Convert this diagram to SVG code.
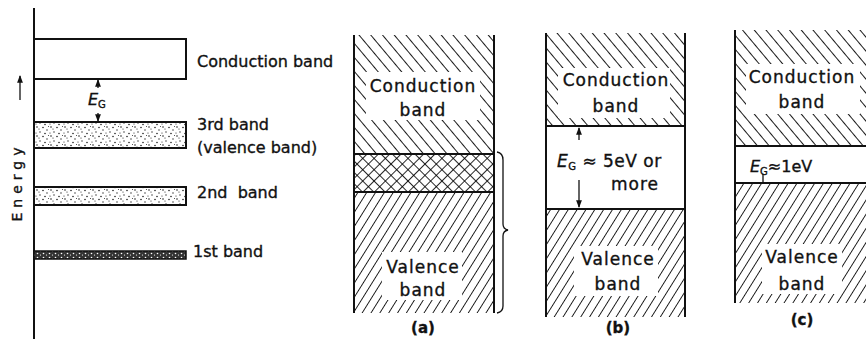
<svg xmlns="http://www.w3.org/2000/svg" width="866" height="339" viewBox="0 0 866 339">
<style>
text{font-family:"DejaVu Sans","Liberation Sans",sans-serif;fill:#111;stroke:#111;stroke-width:0.35}
.lbl{font-size:16px}
.pt{font-size:17px;letter-spacing:1px;text-anchor:middle}
.ln{stroke:#111;stroke-width:2}
.thin{stroke:#111;stroke-width:1.3;fill:none}
</style>
<defs>
<pattern id="hb" width="9" height="9" patternUnits="userSpaceOnUse" patternTransform="rotate(-40)">
<line x1="0" y1="0" x2="0" y2="9" stroke="#000" stroke-width="1.8"/>
</pattern>
<pattern id="hf" width="7.5" height="7.5" patternUnits="userSpaceOnUse" patternTransform="rotate(32)">
<line x1="0" y1="0" x2="0" y2="7.5" stroke="#000" stroke-width="1.7"/>
</pattern>
<pattern id="xh1" width="8" height="8" patternUnits="userSpaceOnUse" patternTransform="rotate(-45)">
<line x1="0" y1="0" x2="0" y2="8" stroke="#000" stroke-width="1.7"/>
</pattern>
<pattern id="xh2" width="8" height="8" patternUnits="userSpaceOnUse" patternTransform="rotate(45)">
<line x1="0" y1="0" x2="0" y2="8" stroke="#000" stroke-width="1.7"/>
</pattern>
<pattern id="dots" width="14" height="9" patternUnits="userSpaceOnUse">
<rect width="14" height="9" fill="#fff"/>
<circle cx="1" cy="1.5" r="0.8" fill="#222"/>
<circle cx="5" cy="4" r="0.7" fill="#222"/>
<circle cx="9" cy="1" r="0.8" fill="#222"/>
<circle cx="12" cy="6" r="0.7" fill="#222"/>
<circle cx="3" cy="7.5" r="0.8" fill="#222"/>
<circle cx="8" cy="7" r="0.6" fill="#222"/>
<circle cx="11" cy="3" r="0.6" fill="#222"/>
<circle cx="6.5" cy="0.5" r="0.5" fill="#222"/>
</pattern>
<pattern id="dense" width="6" height="4" patternUnits="userSpaceOnUse">
<rect width="6" height="4" fill="#333"/>
<circle cx="1.5" cy="1.5" r="0.8" fill="#fff"/>
<circle cx="4.5" cy="3" r="0.6" fill="#fff"/>
</pattern>
<marker id="ah" viewBox="0 0 8 8" refX="7" refY="4" markerWidth="6" markerHeight="6" orient="auto-start-reverse">
<path d="M0,1 L8,4 L0,7 z" fill="#111"/>
</marker>
</defs>

<!-- Left panel: energy level diagram -->
<g id="axis">
<line class="ln" x1="34" y1="8" x2="34" y2="339"/>
<line class="thin" x1="20" y1="100" x2="20" y2="76" marker-end="url(#ah)"/>
<text x="22" y="182" font-size="14" letter-spacing="5" text-anchor="middle" transform="rotate(-90 22 182)">Energy</text>
</g>
<g id="conduction-level">
<rect x="34" y="39" width="152" height="40" fill="#fff" class="ln"/>
<text class="lbl" x="197" y="67">Conduction band</text>
</g>
<g id="gap-left">
<line class="thin" x1="98" y1="88" x2="98" y2="80" marker-end="url(#ah)"/>
<line class="thin" x1="98" y1="113" x2="98" y2="121" marker-end="url(#ah)"/>
<text x="88" y="105" font-size="16" font-style="italic">E<tspan font-size="10" dy="3" font-style="normal">G</tspan></text>
</g>
<g id="band3">
<rect x="34" y="122" width="152" height="26" fill="url(#dots)" class="ln"/>
<text class="lbl" x="197" y="130">3rd band</text>
<text class="lbl" x="197" y="153">(valence band)</text>
</g>
<g id="band2">
<rect x="34" y="187" width="152" height="18" fill="url(#dots)" class="ln"/>
<text class="lbl" x="197" y="198">2nd&#160;&#160;band</text>
</g>
<g id="band1">
<rect x="34" y="251" width="152" height="8" fill="url(#dense)" stroke="#111" stroke-width="1.5"/>
<text class="lbl" x="193" y="257">1st&#160;band</text>
</g>

<!-- Panel (a): metal / overlap -->
<g id="panel-a">
<rect x="354" y="35" width="140" height="119" fill="url(#hb)"/>
<rect x="354" y="154" width="140" height="38" fill="url(#xh1)"/>
<rect x="354" y="154" width="140" height="38" fill="url(#xh2)"/>
<rect x="354" y="192" width="140" height="121" fill="url(#hf)"/>
<rect x="366" y="72" width="114" height="48" fill="#fff"/>
<rect x="382" y="252" width="80" height="48" fill="#fff"/>
<text class="pt" x="423" y="92">Conduction</text>
<text class="pt" x="423" y="116">band</text>
<text class="pt" x="423" y="273">Valence</text>
<text class="pt" x="423" y="296">band</text>
<line class="ln" x1="354" y1="35" x2="354" y2="313"/>
<line class="ln" x1="494" y1="35" x2="494" y2="313"/>
<line class="ln" x1="354" y1="154" x2="494" y2="154"/>
<line class="ln" x1="354" y1="192" x2="494" y2="192"/>
<path class="thin" d="M497,152 Q503,153 503,160 L503,224 Q503,229 508,230 Q503,231 503,236 L503,306 Q503,312 497,313"/>
<text x="423" y="333" font-size="15" text-anchor="middle" font-weight="bold">(a)</text>
</g>

<!-- Panel (b): insulator -->
<g id="panel-b">
<rect x="546" y="33" width="139" height="93" fill="url(#hb)"/>
<rect x="546" y="209" width="139" height="108" fill="url(#hf)"/>
<rect x="558" y="68" width="112" height="50" fill="#fff"/>
<rect x="574" y="246" width="84" height="50" fill="#fff"/>
<text class="pt" x="616" y="86">Conduction</text>
<text class="pt" x="616" y="112">band</text>
<text class="pt" x="618" y="265">Valence</text>
<text class="pt" x="618" y="290">band</text>
<line class="ln" x1="546" y1="33" x2="546" y2="317"/>
<line class="ln" x1="685" y1="33" x2="685" y2="317"/>
<line class="ln" x1="546" y1="126" x2="685" y2="126"/>
<line class="ln" x1="546" y1="209" x2="685" y2="209"/>
<line class="thin" x1="579" y1="140" x2="579" y2="128" marker-end="url(#ah)"/>
<line class="thin" x1="579" y1="180" x2="579" y2="207" marker-end="url(#ah)"/>
<text x="557" y="167" font-size="17" letter-spacing="0.5"><tspan font-style="italic">E</tspan><tspan font-size="10" dy="3">G</tspan><tspan dy="-3"> ≈ 5eV or</tspan></text>
<text class="pt" x="635" y="190">more</text>
<text x="618" y="333" font-size="15" text-anchor="middle" font-weight="bold">(b)</text>
</g>

<!-- Panel (c): semiconductor -->
<g id="panel-c">
<rect x="735" y="30" width="131" height="116" fill="url(#hb)"/>
<rect x="735" y="183" width="131" height="120" fill="url(#hf)"/>
<rect x="746" y="64" width="114" height="50" fill="#fff"/>
<rect x="762" y="244" width="80" height="50" fill="#fff"/>
<text class="pt" x="802" y="83">Conduction</text>
<text class="pt" x="802" y="108">band</text>
<text class="pt" x="802" y="263">Valence</text>
<text class="pt" x="802" y="290">band</text>
<line class="ln" x1="735" y1="30" x2="735" y2="303"/>
<line class="ln" x1="735" y1="146" x2="866" y2="146"/>
<line class="ln" x1="735" y1="183" x2="866" y2="183"/>
<line class="thin" x1="763" y1="174" x2="763" y2="183"/>
<text x="750" y="172" font-size="16"><tspan font-style="italic">E</tspan><tspan font-size="10" dy="3">G</tspan><tspan dy="-3">≈1eV</tspan></text>
<text x="802" y="325" font-size="15" text-anchor="middle" font-weight="bold">(c)</text>
</g>
</svg>
